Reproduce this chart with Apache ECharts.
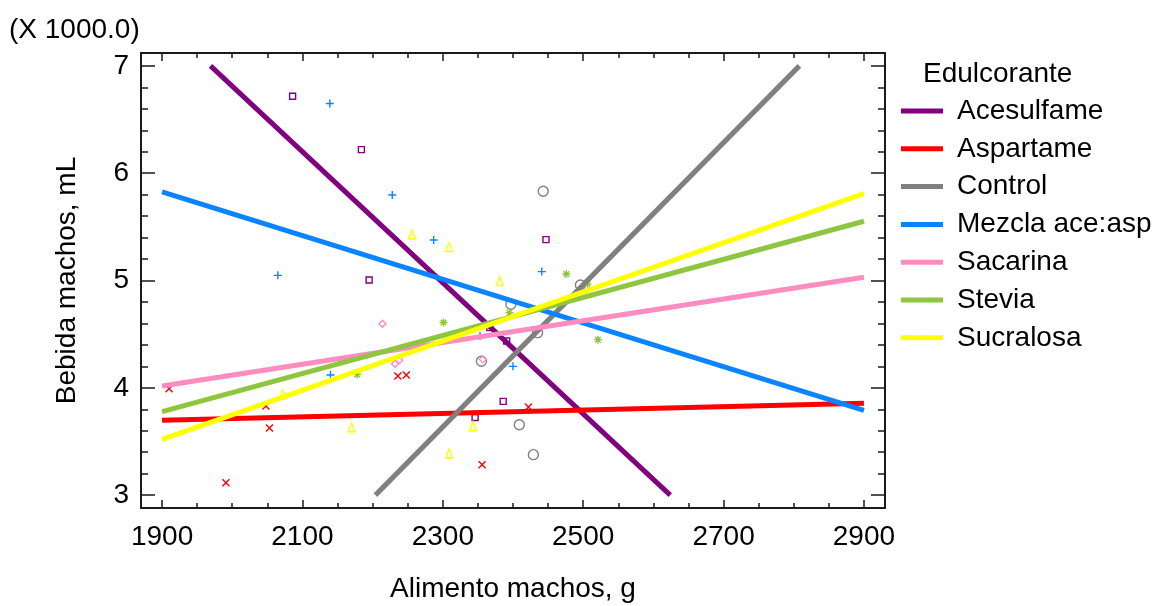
<!DOCTYPE html>
<html>
<head>
<meta charset="utf-8">
<script src="https://cdn.jsdelivr.net/npm/echarts@6/dist/echarts.min.js"></script>
<style>
html,body{margin:0;padding:0;background:#fff;}
#chart{width:1164px;height:606px;}
</style>
</head>
<body>
<div id="chart"></div>
<script>
// ---- data ----
const groups = ['Acesulfame', 'Aspartame', 'Control', 'Mezcla ace:asp', 'Sacarina', 'Stevia', 'Sucralosa'];
const colors = ['#800080', '#ff0000', '#808080', '#0a84ff', '#ff8cc0', '#8ec63f', '#ffff00'];

// fitted lines (endpoints)
const acesulfameLine = [[1969, 7000], [2624, 3000]];
const aspartameLine  = [[1900, 3697], [2900, 3855]];
const controlLine    = [[2204, 3000], [2808, 7000]];
const mezclaLine     = [[1900, 5825], [2900, 3790]];
const sacarinaLine   = [[1900, 4016], [2900, 5030]];
const steviaLine     = [[1900, 3778], [2900, 5552]];
const sucralosaLine  = [[1900, 3519], [2900, 5810]];

// observed points
const acesulfamePts = [[2086,6717],[2184,6220],[2195,5005],[2447,5381],[2367,4561],[2391,4436],[2386,3874],[2346,3724]];
const aspartamePts  = [[1910,3992],[2048,3830],[2053,3625],[1991,3116],[2236,4110],[2248,4119],[2356,3283],[2422,3821]];
const controlPts    = [[2443,5832],[2397,4778],[2496,4958],[2435,4514],[2355,4247],[2409,3656],[2429,3377]];
const mezclaPts     = [[2139,6649],[2228,5797],[2065,5048],[2287,5378],[2441,5083],[2140,4119],[2400,4200],[2353,4482]];
const sacarinaPts   = [[2214,4598],[2232,4225],[2238,4256],[2357,4265]];
const steviaPts     = [[2476,5061],[2506,4965],[2395,4701],[2301,4608],[2521,4449],[2178,4125]];
const sucralosaPts  = [[2256,5428],[2309,5312],[2381,4995],[2170,3634],[2343,3643],[2309,3389],[2072,3939]];

// ticks
const xMajorTicks = [1900, 2100, 2300, 2500, 2700, 2900];
const xMinorTicks = [1900,1950,2000,2050,2100,2150,2200,2250,2300,2350,2400,2450,2500,2550,2600,2650,2700,2750,2800,2850,2900];
const yMajorTicks = [3000, 4000, 5000, 6000, 7000];
const yMinorTicks = [3000,3200,3400,3600,3800,4000,4200,4400,4600,4800,5000,5200,5400,5600,5800,6000,6200,6400,6600,6800,7000];

const xTitle = 'Alimento machos, g';
const yTitle = 'Bebida machos, mL';
const scaleNote = '(X 1000.0)';
const legendTitle = 'Edulcorante';

// ---- options ----
const FONT = 'Liberation Sans, Arial, sans-serif';
const FS = 28;
const lines = [acesulfameLine, aspartameLine, controlLine, mezclaLine, sacarinaLine, steviaLine, sucralosaLine];
const pts = [acesulfamePts, aspartamePts, controlPts, mezclaPts, sacarinaPts, steviaPts, sucralosaPts];
const symbols = [
  {symbol: 'rect', size: 6},
  {symbol: 'path://M0,0L10,10M10,0L0,10', size: 7},
  {symbol: 'circle', size: 10},
  {symbol: 'path://M5,0L5,10M0,5L10,5', size: 8},
  {symbol: 'diamond', size: 7},
  {symbol: 'path://M5,0L5,10M0,5L10,5M1.5,1.5L8.5,8.5M8.5,1.5L1.5,8.5', size: 8},
  {symbol: 'triangle', size: [7, 9]}
];

const X_MIN = 1870, X_MAX = 2930, Y_MIN = 2880, Y_MAX = 7120;
const AX = '#1a1a1a';

function xAxis(pos, ticks, len, labels, showLine, name) {
  return {
    type: 'value', position: pos, min: X_MIN, max: X_MAX,
    name: name || '', nameLocation: 'middle', nameGap: 67,
    nameTextStyle: {fontSize: FS, color: '#000', fontFamily: FONT},
    axisLine: {show: showLine, onZero: false, lineStyle: {color: AX, width: 2}},
    axisTick: {show: true, inside: true, length: len, customValues: ticks, lineStyle: {color: AX, width: 1.5}},
    axisLabel: labels ? {show: true, customValues: labels, fontSize: FS, color: '#000', fontFamily: FONT, margin: 15,
      formatter: v => String(v)} : {show: false},
    splitLine: {show: false}
  };
}
function yAxis(pos, ticks, len, labels, showLine, name) {
  return {
    type: 'value', position: pos, min: Y_MIN, max: Y_MAX,
    name: name || '', nameLocation: 'middle', nameGap: 60,
    nameTextStyle: {fontSize: FS, color: '#000', fontFamily: FONT},
    axisLine: {show: showLine, onZero: false, lineStyle: {color: AX, width: 2}},
    axisTick: {show: true, inside: true, length: len, customValues: ticks, lineStyle: {color: AX, width: 1.5}},
    axisLabel: labels ? {show: true, customValues: labels, fontSize: FS, color: '#000', fontFamily: FONT, margin: 12,
      formatter: v => String(v / 1000)} : {show: false},
    splitLine: {show: false}
  };
}

const series = [];
groups.forEach((g, i) => {
  series.push({
    name: g, type: 'line', data: lines[i], xAxisIndex: 0, yAxisIndex: 0,
    showSymbol: false, symbol: 'none', z: 3 + i * 0.01,
    lineStyle: {color: colors[i], width: 5, cap: 'butt'},
    itemStyle: {color: colors[i]},
    silent: true
  });
});
groups.forEach((g, i) => {
  series.push({
    name: g, type: 'scatter', data: pts[i], xAxisIndex: 0, yAxisIndex: 0,
    symbol: symbols[i].symbol, symbolSize: symbols[i].size, z: 2,
    itemStyle: {color: 'rgba(255,255,255,0)', borderColor: colors[i], borderWidth: 1.4, opacity: 1},
    silent: true
  });
});

const option = {
  animation: false,
  backgroundColor: '#fff',
  textStyle: {fontFamily: FONT},
  title: [
    {text: scaleNote, left: 9, top: 16, padding: 0, textStyle: {fontSize: FS, fontWeight: 'normal', color: '#000', fontFamily: FONT}},
    {text: legendTitle, left: 918, top: 55, textStyle: {fontSize: FS, fontWeight: 'normal', color: '#000', fontFamily: FONT}}
  ],
  legend: {
    data: groups, orient: 'vertical', left: 896, top: 92,
    icon: 'rect', itemWidth: 42, itemHeight: 5, itemGap: 9.8,
    textStyle: {fontSize: FS, color: '#000', fontFamily: FONT, padding: [0, 0, 0, 9]},
    selectedMode: false
  },
  grid: {left: 141, right: 279, top: 53, bottom: 98, containLabel: false, outerBoundsMode: 'none'},
  xAxis: [
    xAxis('bottom', xMajorTicks, 8, xMajorTicks, true, xTitle),
    xAxis('bottom', xMinorTicks, 5, null, false),
    xAxis('top', xMajorTicks, 8, null, true),
    xAxis('top', xMinorTicks, 5, null, false)
  ],
  yAxis: [
    yAxis('left', yMajorTicks, 14, yMajorTicks, true, yTitle),
    yAxis('left', yMinorTicks, 7, null, false),
    yAxis('right', yMajorTicks, 14, null, true),
    yAxis('right', yMinorTicks, 7, null, false)
  ],
  series: series
};

const chart = echarts.init(document.getElementById('chart'), null, {renderer: 'canvas'});
chart.setOption(option);
</script>
</body>
</html>
